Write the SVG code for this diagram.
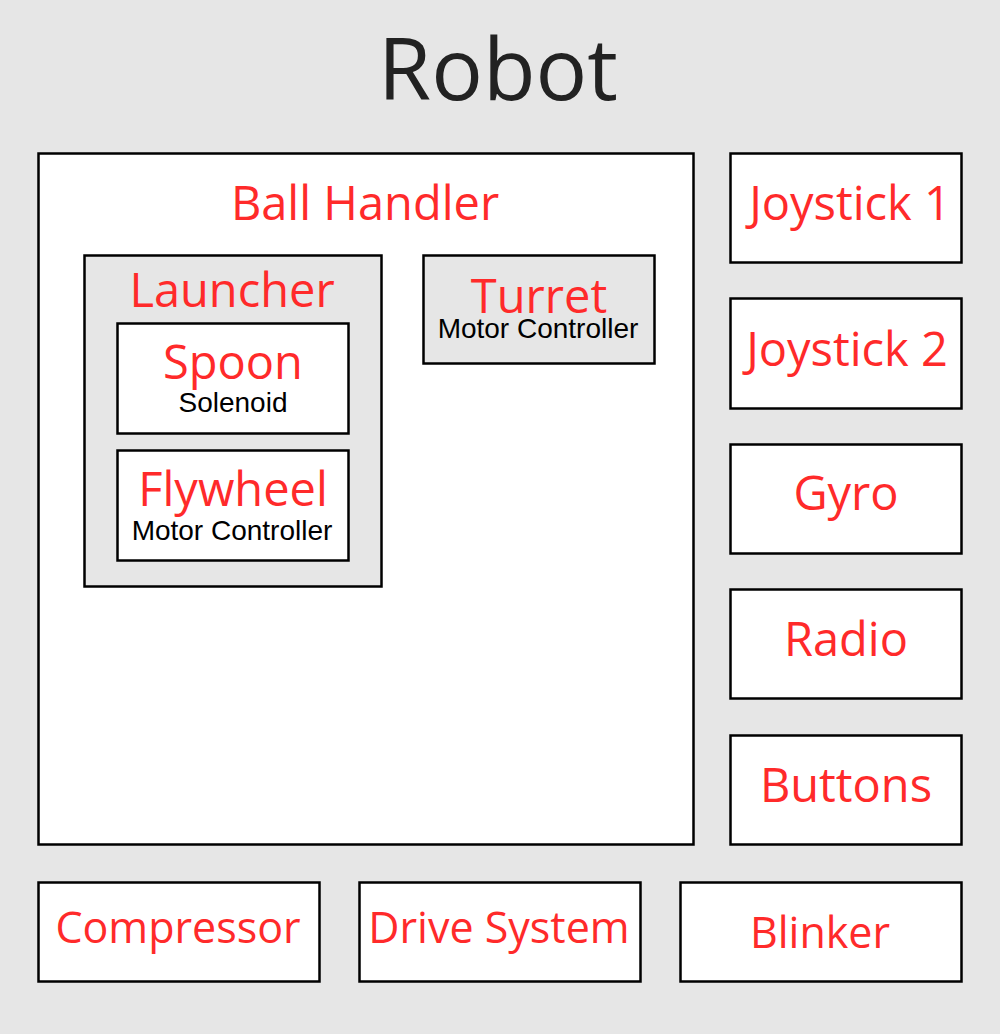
<svg xmlns="http://www.w3.org/2000/svg" width="1000" height="1034" viewBox="0 0 1000 1034">
<style>
.box{fill:#ffffff;stroke:#000000;stroke-width:2.5}
.gbox{fill:#e6e6e6;stroke:#000000;stroke-width:2.5}
.red{fill:#ff2a2a;font-family:"Open Sans","Noto Sans",sans-serif;text-anchor:middle}
.big{font-size:47px}
.mid{font-size:43px}
.sub{fill:#000000;font-family:"Liberation Sans",Arial,sans-serif;font-size:28px;text-anchor:middle}
</style>
<rect x="0" y="0" width="1000" height="1034" fill="#e6e6e6"/>
<text x="498" y="100" font-family="Open Sans, Noto Sans, sans-serif" font-size="86" fill="#222222" text-anchor="middle">Robot</text>
<g id="ball-handler">
<rect class="box" x="38.5" y="153.5" width="655" height="691"/>
<text class="red big" x="365" y="220">Ball Handler</text>
</g>
<g id="launcher">
<rect class="gbox" x="84.5" y="255.5" width="297" height="331"/>
<text class="red big" x="232" y="307">Launcher</text>
</g>
<g id="spoon">
<rect class="box" x="117.5" y="323.5" width="231" height="110"/>
<text class="red big" x="233" y="379">Spoon</text>
<text class="sub" x="233" y="412">Solenoid</text>
</g>
<g id="flywheel">
<rect class="box" x="117.5" y="450.5" width="231" height="110"/>
<text class="red big" x="233" y="506">Flywheel</text>
<text class="sub" x="232" y="540">Motor Controller</text>
</g>
<g id="turret">
<rect class="gbox" x="423.5" y="255.5" width="231" height="108"/>
<text class="red big" x="539" y="313">Turret</text>
<text class="sub" x="538" y="338">Motor Controller</text>
</g>
<g id="joystick1">
<rect class="box" x="730.5" y="153.5" width="231" height="109"/>
<text class="red big" x="850" y="220">Joystick 1</text>
</g>
<g id="joystick2">
<rect class="box" x="730.5" y="298.5" width="231" height="110"/>
<text class="red big" x="847" y="366">Joystick 2</text>
</g>
<g id="gyro">
<rect class="box" x="730.5" y="444.5" width="231" height="109"/>
<text class="red big" x="846" y="510">Gyro</text>
</g>
<g id="radio">
<rect class="box" x="730.5" y="589.5" width="231" height="109"/>
<text class="red big" x="846" y="656">Radio</text>
</g>
<g id="buttons">
<rect class="box" x="730.5" y="735.5" width="231" height="109"/>
<text class="red big" x="846" y="802">Buttons</text>
</g>
<g id="compressor">
<rect class="box" x="38.5" y="882.5" width="281" height="99"/>
<text class="red mid" x="178" y="943">Compressor</text>
</g>
<g id="drive-system">
<rect class="box" x="359.5" y="882.5" width="281" height="99"/>
<text class="red mid" x="499" y="943">Drive System</text>
</g>
<g id="blinker">
<rect class="box" x="680.5" y="882.5" width="281" height="99"/>
<text class="red mid" x="820" y="948">Blinker</text>
</g>
<g id="connectors"></g>
</svg>
